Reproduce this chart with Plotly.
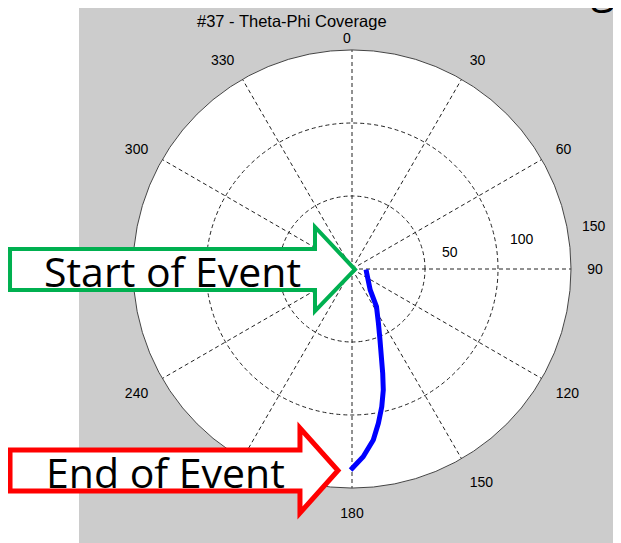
import math
import plotly.graph_objects as go

# the page body adds an 8px margin, so the figure is 8px smaller and everything is placed
# in page pixels via px()
OFF = 8
W, H = 621 - OFF, 543 - OFF

# blue trace (theta clockwise from top, r in plot units)
theta_deg = [92, 106, 139, 147, 154, 158.5, 163.6, 165.5, 167.8, 170.3, 172.9, 176.6, 180.4]
r_vals = [9.6, 10.5, 19, 30.8, 41.3, 52.3, 74.5, 85.6, 96.5, 107.2, 118, 128.8, 137.7]

angle_ticks = [0, 30, 60, 90, 120, 150, 180, 210, 240, 270, 300, 330]
radial_ticks = [50, 100, 150]
radial_labels = ['50', '100', '150']
r_max = 150

# polar disc in page pixels
CX, CY, R = 352, 269, 219


def px(x, y):
    # page pixel (from top-left) -> paper coords
    return (x - OFF) / W, 1 - (y - OFF) / H


def arrow_path(x0, body_top, body_bot, head_x, head_top, head_bot, tip_x):
    mid = (body_top + body_bot) / 2
    pts = [(x0, body_top), (head_x, body_top), (head_x, head_top), (tip_x, mid),
           (head_x, head_bot), (head_x, body_bot), (x0, body_bot)]
    out = []
    for i, (x, y) in enumerate(pts):
        xx, yy = px(x, y)
        out.append(('M' if i == 0 else 'L') + f'{xx:.4f},{yy:.4f}')
    return ' '.join(out) + ' Z'


fig = go.Figure()
fig.add_trace(go.Scatterpolar(r=r_vals, theta=theta_deg, mode='lines',
                              line=dict(color='#0000FF', width=5), showlegend=False))

gx0, gy0 = px(79, 7)
shapes = [dict(type='rect', xref='paper', yref='paper', x0=gx0, x1=1.02, y0=-0.02, y1=1.02,
               fillcolor='#CCCCCC', line=dict(width=0), layer='below'),
          dict(type='path', xref='paper', yref='paper', path=arrow_path(10, 249, 290, 315, 227, 311, 355),
               fillcolor='white', line=dict(color='#00B050', width=4)),
          dict(type='path', xref='paper', yref='paper', path=arrow_path(10, 450, 491, 300, 428, 513, 338),
               fillcolor='white', line=dict(color='#FF0000', width=5))]

annotations = [
    dict(text='#37 - Theta-Phi Coverage', x=px(292, 0)[0], y=px(0, 21)[1],
         font=dict(family='Liberation Sans', size=16.5, color='#000')),
    dict(text='0', x=px(347, 0)[0], y=px(0, 38)[1],
         font=dict(family='Liberation Sans', size=14, color='#000')),
    dict(text='Start of Event', x=px(172, 0)[0], y=px(0, 271)[1],
         font=dict(family='Open Sans', size=41, color='#000')),
    dict(text='End of Event', x=px(165, 0)[0], y=px(0, 472)[1],
         font=dict(family='Open Sans', size=41, color='#000')),
    # tail of the slide heading peeking in at the top edge
    dict(text='g', x=px(603, 0)[0], y=px(0, -15)[1],
         font=dict(family='Open Sans', size=44, color='#000')),
]
# radial tick labels sit just outside their rings, a little above the 90 line
for t, lab in zip(radial_ticks, radial_labels):
    rp = R * (t + 18) / r_max
    a = math.radians(80)
    annotations.append(dict(text=lab, x=px(CX + rp * math.sin(a), 0)[0], y=px(0, CY - rp * math.cos(a))[1],
                            font=dict(family='Liberation Sans', size=14, color='#000')))
for a in annotations:
    a.update(xref='paper', yref='paper', showarrow=False, xanchor='center', yanchor='middle')

dom_x = [px(CX - R, 0)[0], px(CX + R, 0)[0]]
dom_y = [px(0, CY + R)[1], px(0, CY - R)[1]]

fig.update_layout(
    width=W, height=H, margin=dict(l=0, r=0, t=0, b=0),
    paper_bgcolor='white', shapes=shapes, annotations=annotations,
    polar=dict(
        domain=dict(x=dom_x, y=dom_y),
        bgcolor='white',
        radialaxis=dict(range=[0, r_max], tickvals=radial_ticks, showticklabels=False,
                        showline=False, ticks='', gridcolor='#222', griddash='4px,3px', gridwidth=1),
        angularaxis=dict(rotation=90, direction='clockwise', tickvals=angle_ticks,
                         ticktext=['' if a == 0 else str(a) for a in angle_ticks], ticks='outside', ticklen=13,
                         tickcolor='rgba(0,0,0,0)', showline=True, linecolor='#444', linewidth=1,
                         gridcolor='#222', griddash='4px,3px', gridwidth=1,
                         tickfont=dict(family='Liberation Sans', size=14, color='#000')),
    ),
)

fig.write_html('out.html')
